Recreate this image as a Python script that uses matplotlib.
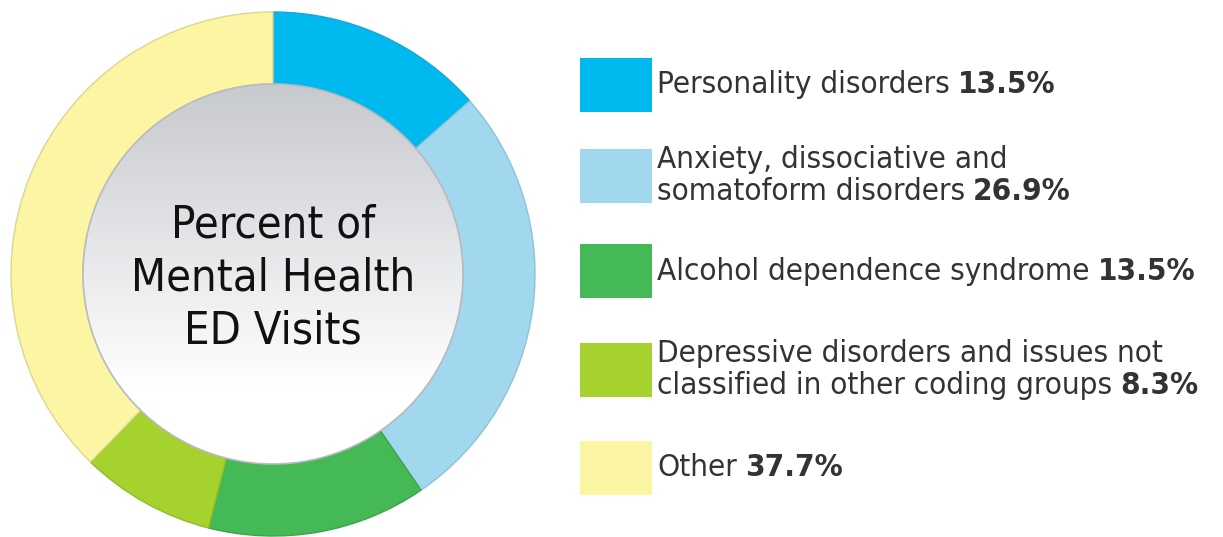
import matplotlib
matplotlib.use("Agg")
import matplotlib.pyplot as plt
import numpy as np
from matplotlib.patches import Circle, Rectangle

# ---------------------------------------------------------------------------
# Data
# ---------------------------------------------------------------------------
categories = [
    "Personality disorders",
    "Anxiety, dissociative and\nsomatoform disorders",
    "Alcohol dependence syndrome",
    "Depressive disorders and issues not\nclassified in other coding groups",
    "Other",
]
shares = [13.5, 26.9, 13.5, 8.3, 37.7]
colors = ["#00B9EE", "#A2D8EE", "#45B955", "#A6D22E", "#FBF5A4"]
edge_colors = ["#1AA6D0", "#8CC3DA", "#3DA34B", "#93BC2A", "#DDD68E"]
center_title = "Percent of\nMental Health\nED Visits"

# layout (pixel coords, y measured from top)
W, H = 1223, 537
cx, cy, r_out, r_in = 273, 274, 262, 190
sq_x, sq_w, sq_h = 580, 72, 54
sq_centers = [84.5, 175.5, 271, 369.5, 467.5]
FONT = "DejaVu Sans"
STRETCH = "condensed"
LEG_SIZE = 22.5
LINE_PX = 32

fig = plt.figure(figsize=(W / 100, H / 100), dpi=100)
ax = fig.add_axes([0, 0, 1, 1])

# donut ring
wedges, _ = ax.pie(
    shares, colors=colors, startangle=90, counterclock=False,
    center=(cx, H - cy), radius=r_out,
    wedgeprops=dict(width=r_out - r_in, linewidth=1.0),
    frame=True,
)
for w, ec in zip(wedges, edge_colors):
    w.set_edgecolor(ec)
ax.set_xlim(0, W)
ax.set_ylim(0, H)
ax.set_aspect("equal")
ax.axis("off")

# inner disc with grey -> white vertical gradient
grad = np.linspace(0, 1, 256)[:, None]
top = np.array([0.78, 0.79, 0.81])
bot = np.array([1.0, 1.0, 1.0])
t = np.clip(grad / 0.8, 0, 1)
img = top[None, None, :] * (1 - t[..., None]) + bot[None, None, :] * t[..., None]
img = np.repeat(img, 2, axis=1)
im = ax.imshow(img, extent=(cx - r_in, cx + r_in, H - cy - r_in, H - cy + r_in),
               origin="upper", zorder=3, aspect="auto")
disc = Circle((cx, H - cy), r_in, transform=ax.transData, facecolor="none",
              edgecolor="#B9BBBF", linewidth=1.2, zorder=4)
ax.add_patch(disc)
im.set_clip_path(disc)

ax.text(cx, H - 278, center_title, ha="center", va="center", fontsize=32.5,
        family=FONT, stretch=STRETCH, color="#111111", linespacing=1.30,
        zorder=5)

# legend
fig.canvas.draw()
renderer = fig.canvas.get_renderer()
for cat, val, col, yc in zip(categories, shares, colors, sq_centers):
    ax.add_patch(Rectangle((sq_x, H - yc - sq_h / 2), sq_w, sq_h,
                           facecolor=col, edgecolor="none"))
    lines = cat.split("\n")
    n = len(lines)
    for i, line in enumerate(lines):
        y = H - (yc + (i - (n - 1) / 2) * LINE_PX)
        txt = ax.text(657, y, line, ha="left", va="center", fontsize=LEG_SIZE,
                      family=FONT, stretch=STRETCH, color="#333333")
        if i == n - 1:
            bb = txt.get_window_extent(renderer=renderer)
            x_end = ax.transData.inverted().transform((bb.x1, bb.y0))[0]
            ax.text(x_end + 8, y, f"{val}%", ha="left", va="center",
                    fontsize=LEG_SIZE, family=FONT, stretch=STRETCH,
                    fontweight="bold", color="#333333")

fig.savefig("out.png", dpi=100)
